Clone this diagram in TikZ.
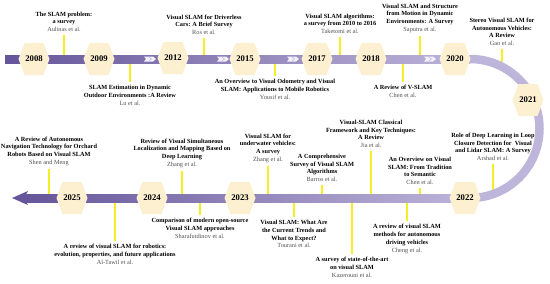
\documentclass[tikz,border=0pt]{standalone}
\usepackage{fontspec}
\setmainfont{Liberation Serif}
\definecolor{bardark}{HTML}{65559A}
\definecolor{barlight}{HTML}{BDB5DA}
\definecolor{hexcol}{HTML}{FDF0D0}
\definecolor{pinyellow}{HTML}{F4EE22}
\definecolor{authgray}{HTML}{505050}
\newcommand\au[1]{{\mdseries\color{authgray}#1}}
\begin{document}
\begin{tikzpicture}[x=1pt,y=-1pt,
  paper/.style={align=center,inner sep=0pt,font=\fontsize{6.3}{7.8}\selectfont\bfseries},
  year/.style={font=\fontsize{8.7}{10}\selectfont\bfseries,inner sep=0pt},
  yline/.style={draw=pinyellow,line width=1.4pt},
  chev/.style={fill=white!80!barlight}]
  \useasboundingbox (0,0) rectangle (550,284);
  \coordinate (topbar) at (0,59);
  \coordinate (botbar) at (0,198);
  \coordinate (arcA) at (0,67);
  \coordinate (arcB) at (0,194);

  \node[paper,anchor=south] (aulinas) at (64,32) {The SLAM problem:\\a survey\\\au{Aulinas et al.}};
  \node[paper,anchor=south] (ros) at (204,35) {Visual SLAM for Driverless\\Cars: A Brief Survey\\\au{Ros et al.}};
  \node[paper,anchor=south] (taketomi) at (340,34) {Visual SLAM algorithms:\\a survey from 2010 to 2016\\\au{Taketomi et al.}};
  \node[paper,anchor=south] (saputra) at (420,33) {Visual SLAM and Structure\\from Motion in Dynamic\\Environments: A Survey\\\au{Saputra et al.}};
  \node[paper,anchor=south] (gao) at (502,46) {Stereo Visual SLAM for\\Autonomous Vehicles:\\A Review\\\au{Gao et al.}};
  \node[paper,anchor=north] (lu) at (130,85) {SLAM Estimation in Dynamic\\Outdoor Environments :A Review\\\au{Lu et al.}};
  \node[paper,anchor=north] (yousif) at (275,79) {An Overview to Visual Odometry and Visual\\SLAM: Applications to Mobile Robotics\\\au{Yousif et al.}};
  \node[paper,anchor=north] (chenv) at (403,85) {A Review of V-SLAM\\\au{Chen et al.}};

  \node[paper,anchor=south] (shen) at (49,166) {A Review of Autonomous\\Navigation Technology for Orchard\\Robots Based on Visual SLAM\\\au{Shen and Meng}};
  \node[paper,anchor=south] (zhangdl) at (182,168) {Review of Visual Simultaneous\\Localization and Mapping Based on\\Deep Learning\\\au{Zhang et al.}};
  \node[paper,anchor=south] (zhanguw) at (268,163) {Visual SLAM for\\underwater vehicles:\\A survey\\\au{Zhang et al.}};
  \node[paper,anchor=south] (jia) at (371,148) {Visual-SLAM Classical\\Framework and Key Techniques:\\A Review\\\au{Jia et al.}};
  \node[paper,anchor=south] (barros) at (322,182) {A Comprehensive\\Survey of Visual SLAM\\Algorithms\\\au{Barros et al.}};
  \node[paper,anchor=south] (chenov) at (420,185) {An Overview on Visual\\SLAM: From Tradition\\to Semantic\\\au{Chen et al.}};
  \node[paper,anchor=south] (arshad) at (493,161) {Role of Deep Learning in Loop\\Closure Detection for\ \ Visual\\and Lidar SLAM: A Survey\\\au{Arshad et al.}};
  \node[paper,anchor=north] (altawil) at (115,244) {A review of visual SLAM for robotics:\\evolution, properties, and future applications\\\au{Al-Tawil et al.}};
  \node[paper,anchor=north] (sharaf) at (200,218) {Comparison of modern open-source\\Visual SLAM approaches\\\au{Sharafutdinov et al.}};
  \node[paper,anchor=north] (tourani) at (294,220) {Visual SLAM: What Are\\the Current Trends and\\What to Expect?\\\au{Tourani et al.}};
  \node[paper,anchor=north] (kazerouni) at (352,257) {A survey of state-of-the-art\\on visual SLAM\\\au{Kazerouni et al.}};
  \node[paper,anchor=north] (cheng) at (407,224) {A review of visual SLAM\\methods for autonomous\\driving vehicles\\\au{Cheng et al.}};

  \foreach \p in {aulinas,ros,taketomi,saputra}
    \draw[yline] ([yshift=-3pt]\p.south) -- (\p.south |- topbar);
  \foreach \p in {lu,yousif,chenv}
    \draw[yline] ([yshift=3pt]\p.north) -- (\p.north |- topbar);
  \foreach \p in {shen,zhangdl,zhanguw,jia,barros,chenov}
    \draw[yline] ([yshift=-3pt]\p.south) -- (\p.south |- botbar);
  \foreach \p in {altawil,sharaf,tourani,kazerouni,cheng}
    \draw[yline] ([yshift=3pt]\p.north) -- (\p.north |- botbar);
  \draw[yline] ([yshift=-3pt]gao.south) -- (gao.south |- arcA);
  \draw[yline] ([yshift=-3pt]arshad.south) -- (arshad.south |- arcB);

  \fill[left color=bardark,right color=barlight] (5,55) rectangle (470,63);
  \draw[barlight,line width=8.5pt] (470,59) arc[start angle=-90,end angle=90,radius=69.5];
  \fill[left color=bardark,right color=barlight] (22,194) rectangle (470,202);
  \fill[bardark] (12,198) -- (28,191) -- (24,198) -- (28,205) -- cycle;

  \foreach \cx in {150,223,293,430} {
    \fill[chev] (\cx-6,56.5) -- (\cx+3,56.5) -- (\cx+6,59) -- (\cx+3,61.5) -- (\cx-6,61.5) -- (\cx-4,59) -- cycle;
    \draw[barlight,line width=0.5pt] (\cx-1,57) -- (\cx+1.5,59) -- (\cx-1,61);
  }

  \foreach \x/\y/\yr in {34/59/2008,99/59/2009,173/58/2012,245/59/2015,317/59/2017,371/59/2018,455/59/2020,
                         528/100/2021,465/198/2022,240/198/2023,152/198/2024,72/198/2025} {
    \fill[hexcol] (\x,\y) +(-15.5,0) -- +(-9.5,-16) -- +(9.5,-16) -- +(15.5,0) -- +(9.5,16) -- +(-9.5,16) -- cycle;
    \node[year] (y\yr) at (\x,\y) {\yr};
  }
\end{tikzpicture}
\end{document}
